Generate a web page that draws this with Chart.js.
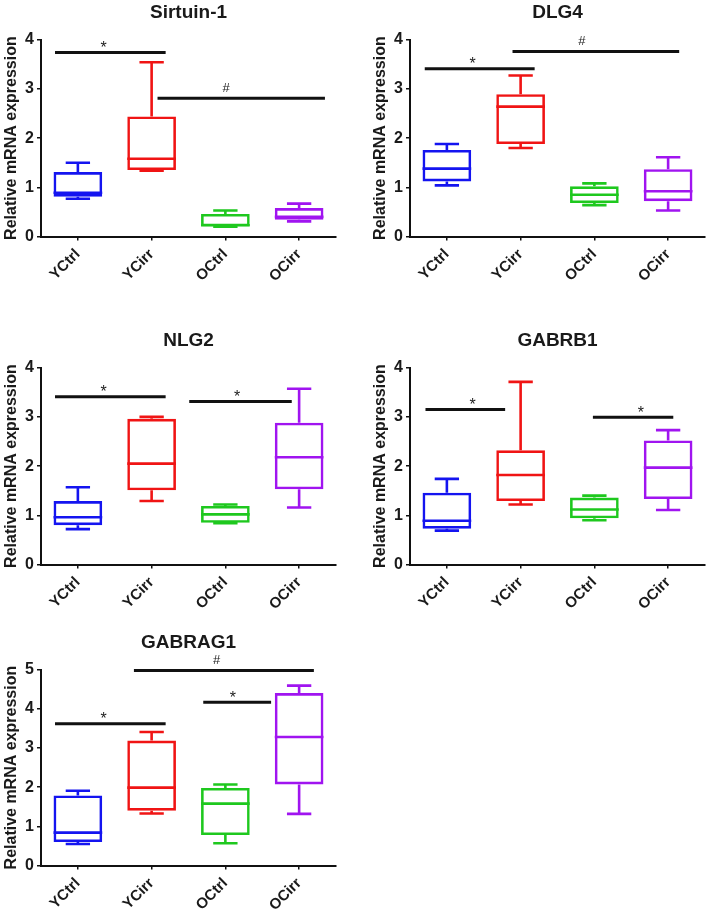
<!DOCTYPE html>
<html>
<head>
<meta charset="utf-8">
<script src="https://cdn.jsdelivr.net/npm/chart.js@4.4.0/dist/chart.umd.min.js"></script>
<style>
  body { margin: 0; background: #fff; width: 709px; height: 912px; position: relative; overflow: hidden; }
  .panel { position: absolute; }
</style>
</head>
<body>
<div class="panel" id="p0"><canvas></canvas></div>
<div class="panel" id="p1"><canvas></canvas></div>
<div class="panel" id="p2"><canvas></canvas></div>
<div class="panel" id="p3"><canvas></canvas></div>
<div class="panel" id="p4"><canvas></canvas></div>
<script>
const groups = ['YCtrl', 'YCirr', 'OCtrl', 'OCirr'];
const groupColors = ['#1414f0', '#f01414', '#1ec81e', '#a014f0'];
const genes = ['Sirtuin-1', 'DLG4', 'NLG2', 'GABRB1', 'GABRAG1'];
const yMax = [4, 4, 4, 4, 5];

// box stats per group: [min, q1, median, q3, max]
const sirtuin1 = [[0.77, 0.81, 0.89, 1.31, 1.50], [1.34, 1.35, 1.58, 2.44, 3.54], [0.20, 0.21, 0.23, 0.46, 0.53], [0.31, 0.34, 0.40, 0.58, 0.67]];
const dlg4 = [[1.04, 1.12, 1.38, 1.76, 1.88], [1.80, 1.88, 2.64, 2.89, 3.27], [0.64, 0.68, 0.85, 1.02, 1.08], [0.53, 0.72, 0.92, 1.37, 1.61]];
const nlg2 = [[0.72, 0.80, 0.96, 1.29, 1.57], [1.29, 1.51, 2.05, 2.96, 3.00], [0.84, 0.85, 1.02, 1.19, 1.22], [1.16, 1.53, 2.18, 2.88, 3.57]];
const gabrb1 = [[0.69, 0.73, 0.89, 1.46, 1.74], [1.22, 1.29, 1.82, 2.32, 3.71], [0.90, 0.94, 1.12, 1.36, 1.40], [1.11, 1.33, 1.97, 2.52, 2.73]];
const gabrag1 = [[0.55, 0.60, 0.84, 1.79, 1.91], [1.33, 1.40, 1.99, 3.19, 3.41], [0.57, 0.78, 1.58, 1.98, 2.07], [1.32, 2.07, 3.28, 4.40, 4.59]];

// significance bars: [from group, to group, y, symbol, symbol x]
const sirtuin1Sig = [[-0.31, 1.19, 3.74, '*', 0.35], [1.08, 3.35, 2.81, '#', 2.01]];
const dlg4Sig = [[-0.30, 1.19, 3.41, '*', 0.35], [0.89, 3.15, 3.76, '#', 1.83]];
const nlg2Sig = [[-0.31, 1.19, 3.41, '*', 0.35], [1.51, 2.90, 3.31, '*', 2.16]];
const gabrb1Sig = [[-0.29, 0.79, 3.15, '*', 0.35], [1.98, 3.07, 2.99, '*', 2.63]];
const gabrag1Sig = [[-0.31, 1.19, 3.62, '*', 0.35], [1.70, 2.62, 4.17, '*', 2.10], [0.76, 3.20, 4.98, '#', 1.88]];

const allStats = [sirtuin1, dlg4, nlg2, gabrb1, gabrag1];
const allSig = [sirtuin1Sig, dlg4Sig, nlg2Sig, gabrb1Sig, gabrag1Sig];

// where each panel sits on the page
const panels = [
  { left: 0, top: 0, width: 355, plotH: 197 },
  { left: 369, top: 0, width: 340, plotH: 197 },
  { left: 0, top: 328, width: 355, plotH: 197 },
  { left: 369, top: 328, width: 340, plotH: 197 },
  { left: 0, top: 630, width: 355, plotH: 196 }
];

const FONT = "'Liberation Sans', Arial, sans-serif";
const TEXT = '#1a1a1a';
Chart.defaults.font.family = FONT;

function drawPanel(idx) {
  const stats = allStats[idx];
  const sig = allSig[idx];
  const p = panels[idx];
  const wrap = document.getElementById('p' + idx);
  wrap.style.left = p.left + 'px';
  wrap.style.top = p.top + 'px';
  const canvas = wrap.querySelector('canvas');
  canvas.width = p.width;
  canvas.height = 300;

  const whiskers = {
    id: 'whiskers',
    afterDatasetsDraw(chart) {
      const { ctx, scales: { x, y } } = chart;
      const bars = chart.getDatasetMeta(0).data;
      ctx.save();
      ctx.lineWidth = 2.6;
      stats.forEach((s, i) => {
        const cx = x.getPixelForValue(i);
        const w = bars[i].width;
        ctx.strokeStyle = groupColors[i];
        ctx.beginPath();
        ctx.moveTo(cx, y.getPixelForValue(s[3]));
        ctx.lineTo(cx, y.getPixelForValue(s[4]));
        ctx.moveTo(cx, y.getPixelForValue(s[1]));
        ctx.lineTo(cx, y.getPixelForValue(s[0]));
        ctx.moveTo(cx - w / 4, y.getPixelForValue(s[4]));
        ctx.lineTo(cx + w / 4, y.getPixelForValue(s[4]));
        ctx.moveTo(cx - w / 4, y.getPixelForValue(s[0]));
        ctx.lineTo(cx + w / 4, y.getPixelForValue(s[0]));
        ctx.moveTo(cx - w / 2, y.getPixelForValue(s[2]));
        ctx.lineTo(cx + w / 2, y.getPixelForValue(s[2]));
        ctx.stroke();
      });

      // significance lines
      ctx.strokeStyle = '#111';
      ctx.lineWidth = 3;
      ctx.fillStyle = '#222';
      ctx.textAlign = 'center';
      ctx.textBaseline = 'alphabetic';
      sig.forEach(b => {
        const yy = y.getPixelForValue(b[2]);
        ctx.beginPath();
        ctx.moveTo(x.getPixelForValue(b[0]), yy);
        ctx.lineTo(x.getPixelForValue(b[1]), yy);
        ctx.stroke();
        ctx.font = (b[3] === '#' ? '13px ' : '16px ') + FONT;
        const m = ctx.measureText(b[3]);
        const centre = yy - (b[3] === '#' ? 11 : 8.5);
        const base = centre + (m.actualBoundingBoxAscent - m.actualBoundingBoxDescent) / 2;
        ctx.fillText(b[3], x.getPixelForValue(b[4]), base);
      });
      ctx.restore();
    }
  };

  new Chart(canvas.getContext('2d'), {
    type: 'bar',
    data: {
      labels: groups,
      datasets: [{
        data: stats.map(s => [s[1], s[3]]),
        backgroundColor: 'rgba(0,0,0,0)',
        borderColor: groupColors,
        borderWidth: 2.6,
        borderSkipped: false,
        barPercentage: 0.66,
        categoryPercentage: 1
      }]
    },
    options: {
      responsive: false,
      animation: false,
      events: [],
      layout: { padding: { left: 0, right: p.width - 41 - 295, top: 0, bottom: 0 } },
      plugins: {
        legend: { display: false },
        tooltip: { enabled: false },
        title: {
          display: true,
          text: genes[idx],
          fullSize: false,
          color: TEXT,
          font: { size: 19, weight: 'bold' },
          padding: { top: 1, bottom: 15.8 }
        }
      },
      scales: {
        x: {
          offset: true,
          grid: { drawOnChartArea: false, offset: false, tickLength: 4, color: '#111', lineWidth: 1.5 },
          border: { color: '#111', width: 2 },
          ticks: { minRotation: 45, maxRotation: 45, padding: 5, color: TEXT, font: { size: 15, weight: 'bold' } },
          afterFit: s => { s.height = 300 - 39.6 - p.plotH; }
        },
        y: {
          min: 0,
          max: yMax[idx],
          grid: { drawOnChartArea: false, tickLength: 4, color: '#111', lineWidth: 1.5 },
          border: { color: '#111', width: 2 },
          ticks: { stepSize: 1, padding: 3, color: TEXT, font: { size: 16, weight: 'bold' } },
          title: {
            display: true,
            text: 'Relative mRNA expression',
            color: TEXT,
            font: { size: 16, weight: 'bold' },
            padding: { top: 1.5, bottom: 0 }
          },
          afterFit: s => { s.width = 41; }
        }
      }
    },
    plugins: [whiskers]
  });
}

genes.forEach((g, i) => drawPanel(i));
</script>
</body>
</html>
